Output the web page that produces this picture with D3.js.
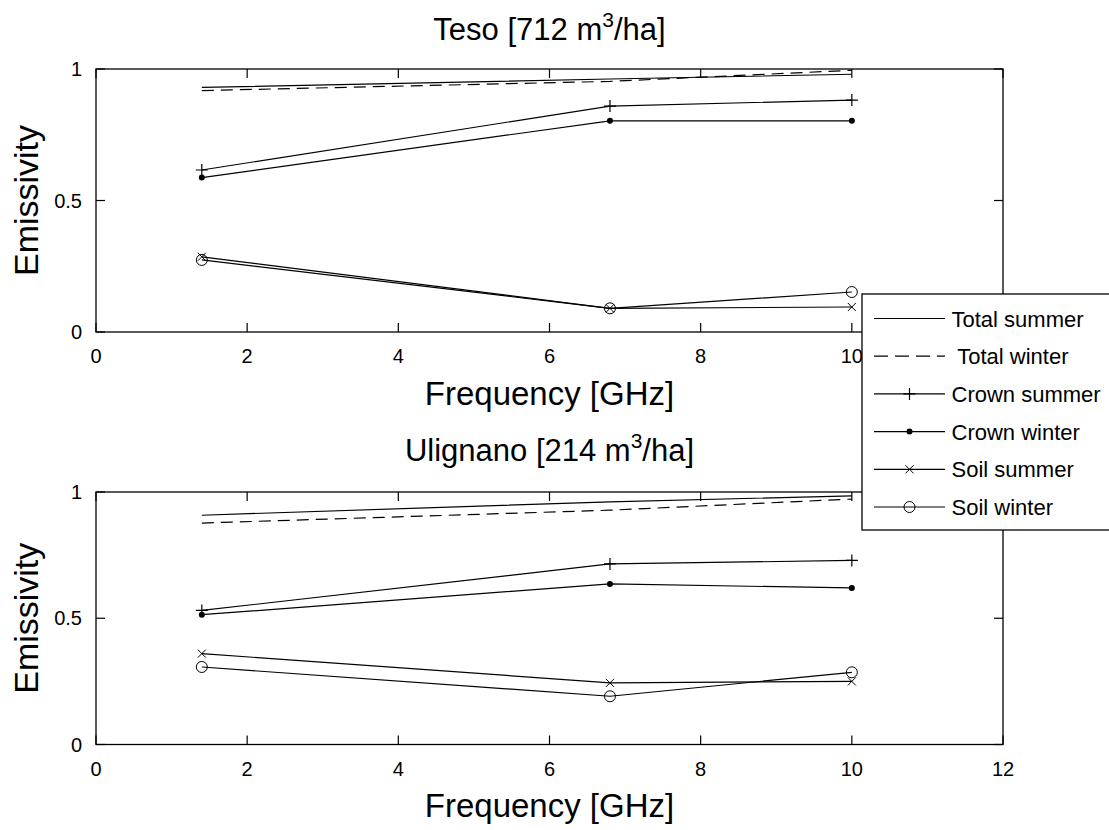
<!DOCTYPE html>
<html>
<head>
<meta charset="utf-8">
<script src="https://cdn.jsdelivr.net/npm/d3@7"></script>
<style>
  html, body { margin: 0; padding: 0; background: #fff; }
  svg { display: block; font-family: "Liberation Sans", Arial, Helvetica, sans-serif; }
  text { fill: #000; }
</style>
</head>
<body>
<svg id="chart" width="1109" height="830"></svg>
<script>
// Frequencies (GHz) at which emissivity was computed
const frequencies = [1.4, 6.8, 10];

// Teso site [712 m3/ha]
const tesoTotalSummer  = [0.930, 0.962, 0.980];
const tesoTotalWinter  = [0.918, 0.953, 0.995];
const tesoCrownSummer  = [0.616, 0.859, 0.882];
const tesoCrownWinter  = [0.587, 0.803, 0.803];
const tesoSoilSummer   = [0.286, 0.090, 0.095];
const tesoSoilWinter   = [0.274, 0.090, 0.152];

// Ulignano site [214 m3/ha]
const ulignanoTotalSummer = [0.908, 0.961, 0.985];
const ulignanoTotalWinter = [0.877, 0.928, 0.972];
const ulignanoCrownSummer = [0.531, 0.715, 0.729];
const ulignanoCrownWinter = [0.514, 0.636, 0.620];
const ulignanoSoilSummer  = [0.360, 0.244, 0.250];
const ulignanoSoilWinter  = [0.307, 0.191, 0.286];

// Series names and their marker / dash styles
const seriesNames   = ["Total summer", " Total winter", "Crown summer", "Crown winter", "Soil summer", "Soil winter"];
const seriesMarkers = ["none", "none", "plus", "dot", "cross", "circle"];
const seriesDashed  = [false, true, false, false, false, false];

const xTicks = [0, 2, 4, 6, 8, 10, 12];
const yTicks = [0, 0.5, 1];
const yTickLabels = ["0", "0.5", "1"];

// Legend box geometry (it sits over the upper panel's lower-right corner)
const legendBox = { x: 862, y: 294, w: 260, h: 236 };

const panels = [
  { title: "Teso [712 ", num: "3", tail: "/ha]", top: 69, bottom: 332, titleY: 40, xlabelY: 405,
    series: [tesoTotalSummer, tesoTotalWinter, tesoCrownSummer, tesoCrownWinter, tesoSoilSummer, tesoSoilWinter] },
  { title: "Ulignano [214 ", num: "3", tail: "/ha]", top: 492, bottom: 744.5, titleY: 461, xlabelY: 817,
    series: [ulignanoTotalSummer, ulignanoTotalWinter, ulignanoCrownSummer, ulignanoCrownWinter, ulignanoSoilSummer, ulignanoSoilWinter] }
];

const svg = d3.select("#chart");
const left = 96, right = 1003;
const x = d3.scaleLinear().domain([0, 12]).range([left, right]);

function drawMarker(g, type, cx, cy) {
  if (type === "plus") {
    g.append("path").attr("d", `M${cx - 6},${cy}H${cx + 6}M${cx},${cy - 6}V${cy + 6}`)
      .attr("stroke", "#000").attr("stroke-width", 1.2).attr("fill", "none");
  } else if (type === "dot") {
    g.append("circle").attr("cx", cx).attr("cy", cy).attr("r", 3).attr("fill", "#000");
  } else if (type === "cross") {
    g.append("path").attr("d", `M${cx - 4},${cy - 4}L${cx + 4},${cy + 4}M${cx - 4},${cy + 4}L${cx + 4},${cy - 4}`)
      .attr("stroke", "#000").attr("stroke-width", 1).attr("fill", "none");
  } else if (type === "circle") {
    g.append("circle").attr("cx", cx).attr("cy", cy).attr("r", 5.5)
      .attr("fill", "none").attr("stroke", "#000").attr("stroke-width", 1);
  }
}

panels.forEach(p => {
  const y = d3.scaleLinear().domain([0, 1]).range([p.bottom, p.top]);
  const g = svg.append("g");

  // frame
  g.append("rect").attr("x", left).attr("y", p.top)
    .attr("width", right - left).attr("height", p.bottom - p.top)
    .attr("fill", "#fff").attr("stroke", "#000").attr("stroke-width", 1.3);

  // inward ticks on all four sides
  const tickLen = 9;
  xTicks.forEach(t => {
    g.append("line").attr("x1", x(t)).attr("x2", x(t)).attr("y1", p.bottom).attr("y2", p.bottom - tickLen).attr("stroke", "#000").attr("stroke-width", 1.2);
    g.append("line").attr("x1", x(t)).attr("x2", x(t)).attr("y1", p.top).attr("y2", p.top + tickLen).attr("stroke", "#000").attr("stroke-width", 1.2);
    // tick labels fully covered by the legend box are not drawn
    const lx = x(t), ly = p.bottom + 31;
    const covered = lx - 8 > legendBox.x && ly > legendBox.y && ly - 15 < legendBox.y + legendBox.h;
    if (!covered) {
      g.append("text").attr("x", lx).attr("y", ly).attr("text-anchor", "middle")
        .attr("font-size", 20).text(t);
    }
  });
  yTicks.forEach((t, i) => {
    g.append("line").attr("x1", left).attr("x2", left + tickLen).attr("y1", y(t)).attr("y2", y(t)).attr("stroke", "#000").attr("stroke-width", 1.2);
    g.append("line").attr("x1", right).attr("x2", right - tickLen).attr("y1", y(t)).attr("y2", y(t)).attr("stroke", "#000").attr("stroke-width", 1.2);
    g.append("text").attr("x", left - 14).attr("y", y(t) + 7).attr("text-anchor", "end")
      .attr("font-size", 20).text(yTickLabels[i]);
  });

  // series lines and markers
  const line = d3.line().x((d, i) => x(frequencies[i])).y(d => y(d));
  p.series.forEach((vals, s) => {
    g.append("path").attr("d", line(vals)).attr("fill", "none")
      .attr("stroke", "#000").attr("stroke-width", 1.2)
      .attr("stroke-dasharray", seriesDashed[s] ? "12,7" : null);
    vals.forEach((v, i) => drawMarker(g, seriesMarkers[s], x(frequencies[i]), y(v)));
  });

  // title with superscript
  const title = g.append("text").attr("x", (left + right) / 2).attr("y", p.titleY)
    .attr("text-anchor", "middle").attr("font-size", 31).style("white-space", "pre");
  title.append("tspan").text(p.title + "m");
  title.append("tspan").attr("font-size", 21).attr("dy", -13).text(p.num);
  title.append("tspan").attr("dy", 13).text(p.tail);

  // axis labels
  g.append("text").attr("x", (left + right) / 2).attr("y", p.xlabelY).attr("text-anchor", "middle")
    .attr("font-size", 33).text("Frequency [GHz]");
  g.append("text").attr("transform", `translate(38,${(p.top + p.bottom) / 2}) rotate(-90)`)
    .attr("text-anchor", "middle").attr("font-size", 34).text("Emissivity");
});

// legend
const leg = svg.append("g");
leg.append("rect").attr("x", legendBox.x).attr("y", legendBox.y).attr("width", legendBox.w).attr("height", legendBox.h)
  .attr("fill", "#fff").attr("stroke", "#000").attr("stroke-width", 1.3);
seriesNames.forEach((name, s) => {
  const cy = 318.5 + s * 37.7;
  leg.append("line").attr("x1", 874).attr("x2", 945).attr("y1", cy).attr("y2", cy)
    .attr("stroke", "#000").attr("stroke-width", 1.2)
    .attr("stroke-dasharray", seriesDashed[s] ? "14,7" : null);
  drawMarker(leg, seriesMarkers[s], 909.5, cy);
  leg.append("text").attr("x", 951.5).attr("y", cy + 8).attr("font-size", 22)
    .style("white-space", "pre").text(name);
});
</script>
</body>
</html>
